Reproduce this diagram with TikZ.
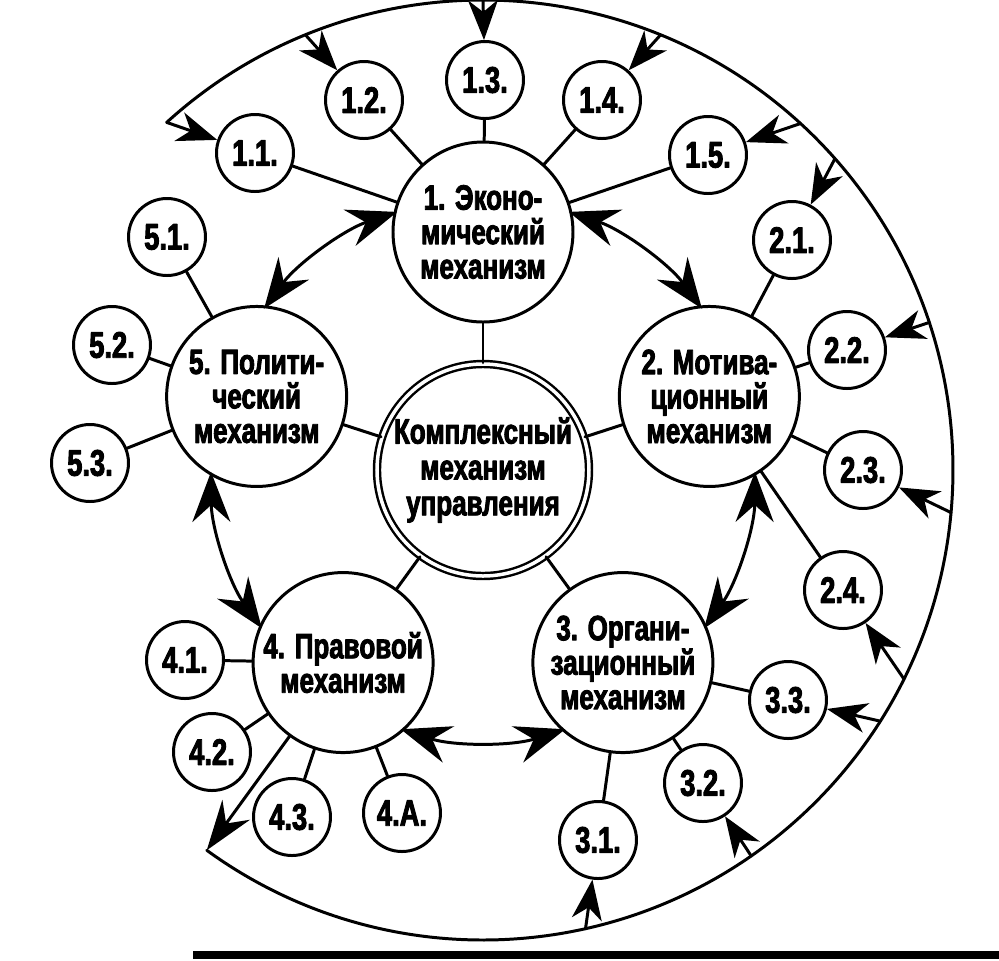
\documentclass[tikz,border=0pt]{standalone}
\usepackage{fontspec}
\setmainfont{Liberation Sans}[FakeStretch=0.74, BoldFeatures={FakeBold=2.5}]
\usetikzlibrary{arrows.meta}

\begin{document}
\begin{tikzpicture}[line join=round, line cap=round, line width=0.85pt,
    mech/.style={draw, circle, minimum size=1.8cm, inner sep=0pt, align=center,
        font=\bfseries\fontsize{10}{9.8}\selectfont},
    subnode/.style={draw, circle, minimum size=0.77cm, inner sep=0pt,
        font=\bfseries\fontsize{10.5}{10}\selectfont},
    core/.style={draw, circle, double, double distance=0.35mm, line width=0.7pt,
        minimum size=2.12cm, inner sep=0pt, align=center,
        font=\bfseries\fontsize{10}{10.2}\selectfont},
    twoway/.style={{Stealth[length=5mm, width=3.8mm, inset=1.7mm]}-{Stealth[length=5mm, width=3.8mm, inset=1.7mm]}},
    inarrow/.style={-{Stealth[length=4mm, width=3mm, inset=1.2mm]}},
    outarrow/.style={-{Stealth[length=5mm, width=3.4mm, inset=1.7mm]}}]
    \useasboundingbox (-4.83,-4.90) rectangle (5.16,4.70);

    % 1. Центр и внешняя дуга
    \coordinate (O) at (0,0);
    \draw (132.3:4.70) arc[start angle=132.3, end angle=-126, radius=4.70];
    \node[core] (C) at (O) {Комплексный\\механизм\\управления};

    % 2. Основные механизмы (по кругу через 72 градуса)
    \node[mech] (M1) at (90:2.38) {1. Эконо-\\мический\\механизм};
    \node[mech] (M2) at (18:2.38) {2. Мотива-\\ционный\\механизм};
    \node[mech] (M3) at (-54:2.38) {3. Органи-\\зационный\\механизм};
    \node[mech] (M4) at (-126:2.38) {4. Правовой\\механизм};
    \node[mech] (M5) at (162:2.38) {5. Полити-\\ческий\\механизм};

    % 3. Элементы механизмов
    \node[subnode] (S11) at (-2.28,3.17) {1.1.};
    \node[subnode] (S12) at (-1.19,3.70) {1.2.};
    \node[subnode] (S13) at (0.02,3.90) {1.3.};
    \node[subnode] (S14) at (1.19,3.70) {1.4.};
    \node[subnode] (S15) at (2.25,3.15) {1.5.};
    \node[subnode] (S21) at (3.09,2.30) {2.1.};
    \node[subnode] (S22) at (3.64,1.20) {2.2.};
    \node[subnode] (S23) at (3.80,0.00) {2.3.};
    \node[subnode] (S24) at (3.60,-1.20) {2.4.};
    \node[subnode] (S31) at (1.15,-3.70) {3.1.};
    \node[subnode] (S32) at (2.20,-3.13) {3.2.};
    \node[subnode] (S33) at (3.05,-2.30) {3.3.};
    \node[subnode] (S41) at (-2.98,-1.90) {4.1.};
    \node[subnode] (S42) at (-2.71,-2.82) {4.2.};
    \node[subnode] (S43) at (-1.91,-3.47) {4.3.};
    \node[subnode] (S44) at (-0.81,-3.43) {4.A.};
    \node[subnode] (S51) at (-3.16,2.33) {5.1.};
    \node[subnode] (S52) at (-3.71,1.25) {5.2.};
    \node[subnode] (S53) at (-3.93,0.07) {5.3.};

    % 4. Связи
    \draw (C) -- (M1);
    \draw (C) -- (M2);
    \draw (C) -- (M3);
    \draw (C) -- (M4);
    \draw (C) -- (M5);
    \draw (M1) -- (S11); \draw (M1) -- (S12); \draw (M1) -- (S13);
    \draw (M1) -- (S14); \draw (M1) -- (S15);
    \draw (M2) -- (S21); \draw (M2) -- (S22); \draw (M2) -- (S23);
    \draw (M2) -- (S24);
    \draw (M3) -- (S31); \draw (M3) -- (S32); \draw (M3) -- (S33);
    \draw (M4) -- (S41); \draw (M4) -- (S42); \draw (M4) -- (S43);
    \draw (M4) -- (S44);
    \draw (M5) -- (S51); \draw (M5) -- (S52); \draw (M5) -- (S53);

    % 5. Двусторонние стрелки между механизмами
    \draw[twoway] (71.6:2.72) arc[start angle=71.6, end angle=36.4, radius=2.72];
    \draw[twoway] (-0.4:2.72) arc[start angle=-0.4, end angle=-35.6, radius=2.72];
    \draw[twoway] (-72.4:2.72) arc[start angle=-72.4, end angle=-107.6, radius=2.72];
    \draw[twoway] (-144.4:2.72) arc[start angle=-144.4, end angle=-179.6, radius=2.72];
    \draw[twoway] (143.6:2.72) arc[start angle=143.6, end angle=108.4, radius=2.72];

    % 6. Стрелки от внешней дуги
    \draw[inarrow] (132.3:4.70) -- (S11);
    \draw[inarrow] (112.2:4.70) -- (S12);
    \draw[inarrow] (90:4.70) -- (S13);
    \draw[inarrow] (67.8:4.70) -- (S14);
    \draw[inarrow] (47.5:4.70) -- (S15);
    \draw[inarrow] (41.5:4.70) -- (S21);
    \draw[inarrow] (18.3:4.70) -- (S22);
    \draw[inarrow] (-5.2:4.70) -- (S23);
    \draw[inarrow] (-26.4:4.70) -- (S24);
    \draw[inarrow] (-32.3:4.70) -- (S33);
    \draw[inarrow] (-55.2:4.70) -- (S32);
    \draw[inarrow] (-77.4:4.70) -- (S31);
    \draw[outarrow] (M4) -- (-126:4.70);

    % 7. Линия внизу
    \fill (-2.90,-4.885) rectangle (5.16,-4.805);
\end{tikzpicture}
\end{document}
